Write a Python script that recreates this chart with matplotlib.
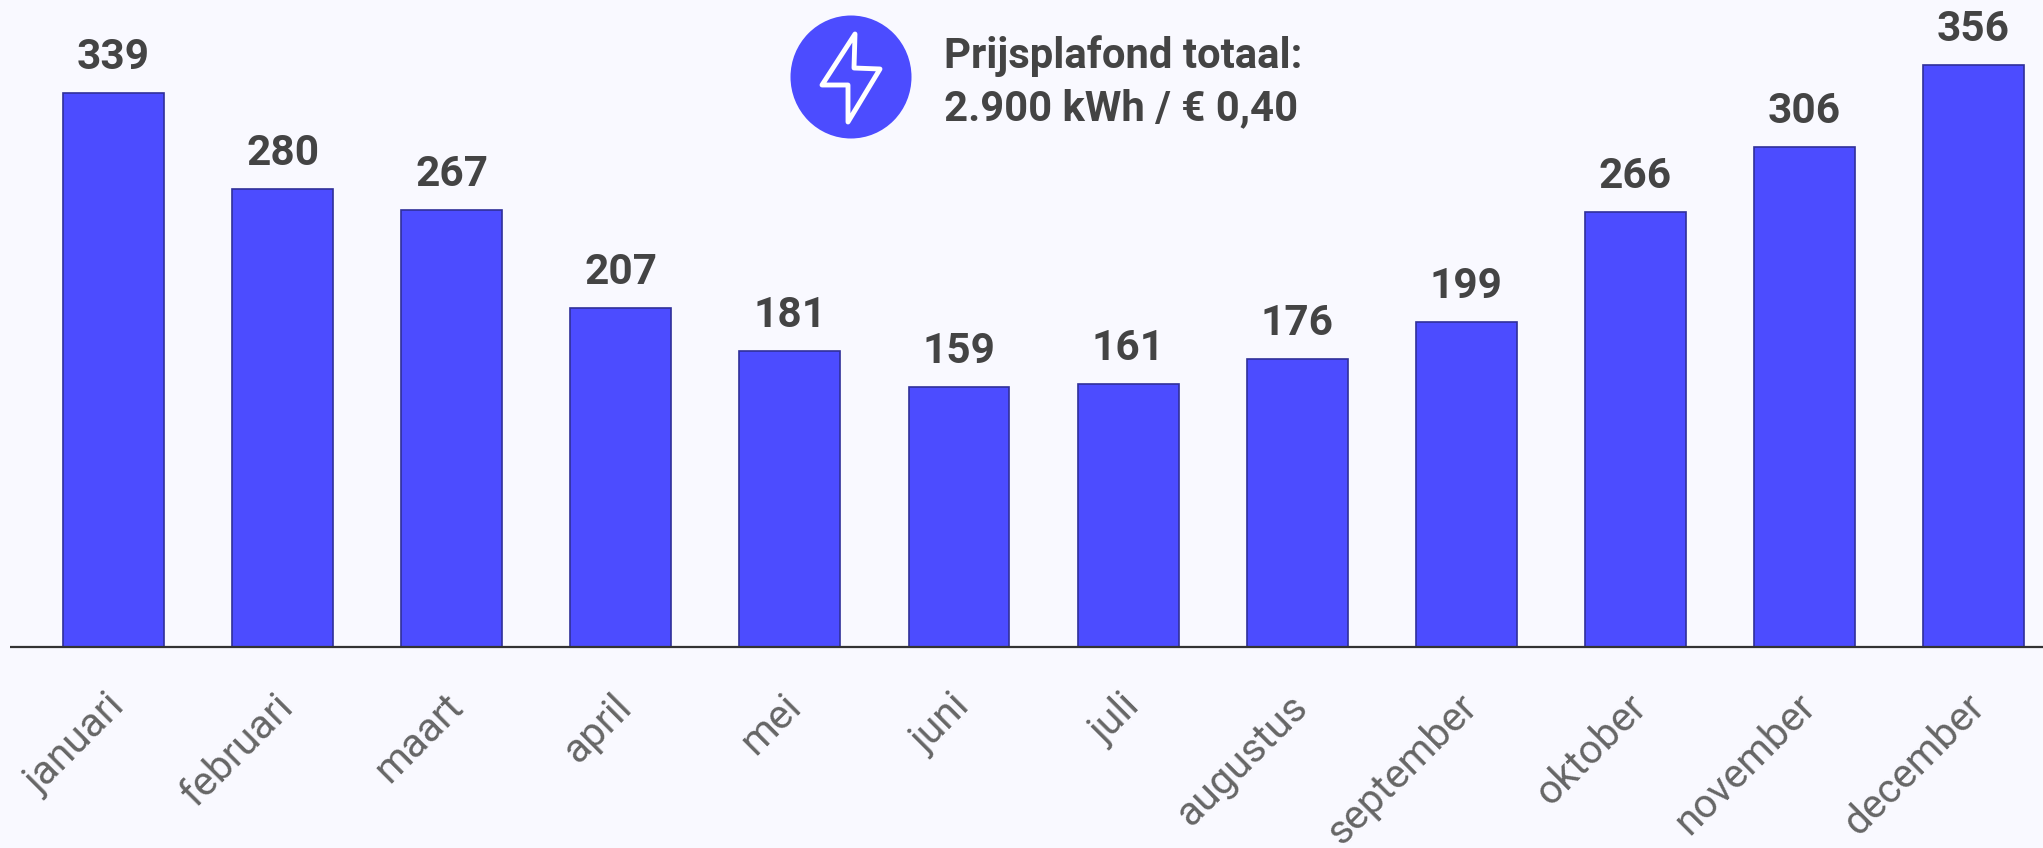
import matplotlib
matplotlib.use("Agg")
import matplotlib.pyplot as plt
from matplotlib.patches import Ellipse, Polygon
from matplotlib.transforms import Affine2D

months = ["januari", "februari", "maart", "april", "mei", "juni", "juli",
          "augustus", "september", "oktober", "november", "december"]
values = [339, 280, 267, 207, 181, 159, 161, 176, 199, 266, 306, 356]
note_lines = ["Prijsplafond totaal:", "2.900 kWh / € 0,40"]

W, H = 2043, 848
BG = "#F9F9FF"
BLUE = "#4C4CFF"

plt.rcParams["font.family"] = ["Roboto", "DejaVu Sans"]

fig = plt.figure(figsize=(W / 100, H / 100), dpi=100, facecolor=BG)

# axes span the full height, baseline sits at y=646 px
ax = fig.add_axes([10 / W, 0, (W - 10) / W, 1], facecolor="none")
pitch = 169.1
ax.set_xlim((10 - 113.5) / pitch, (W - 113.5) / pitch)
scale = 1.633
ax.set_ylim(-(H - 646.5) / scale, 646.5 / scale)

xs = list(range(len(months)))
ax.bar(xs, values, width=0.597, color=BLUE, edgecolor="#30309A", linewidth=1.2, zorder=2)
ax.axhline(0, color="#333333", linewidth=1.6, zorder=3)

for x, v in zip(xs, values):
    ax.annotate(str(v), (x, v), xytext=(0, 15), textcoords="offset pixels",
                ha="center", va="bottom", fontsize=30.5, fontweight="bold", color="#444444")

for x, m in zip(xs, months):
    ax.annotate(m, (x, 0), xytext=(-9, -40), textcoords="offset pixels",
                ha="right", va="top", rotation=45, rotation_mode="anchor",
                fontsize=29.3, color="#666666")

for s in ax.spines.values():
    s.set_visible(False)
ax.set_xticks([])
ax.set_yticks([])

# icon and note, placed in pixel coordinates (y down)
px = Affine2D().scale(1, -1).translate(0, H)
fig.add_artist(Ellipse((851, 77), 121, 123, facecolor=BLUE, edgecolor="none", transform=px))
bolt = [(855, 34), (854, 68), (880, 69), (848, 122), (848, 85), (822, 85)]
fig.add_artist(Polygon(bolt, closed=True, facecolor="none", edgecolor="white",
                       linewidth=3.5, joinstyle="round", transform=px))
for line, y in zip(note_lines, [68, 120]):
    fig.text(944, y, line, transform=px, ha="left", va="baseline",
             fontsize=30.2, fontweight="bold", color="#444444")

fig.savefig("out.png", dpi=100, facecolor=BG)
